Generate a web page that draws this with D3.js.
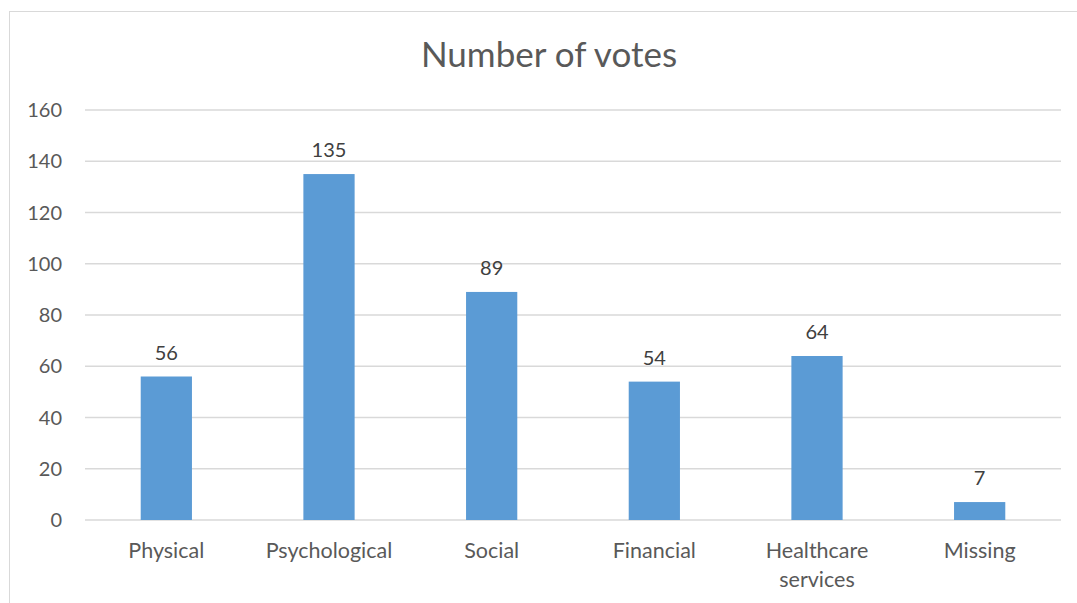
<!DOCTYPE html>
<html>
<head>
<meta charset="utf-8">
<script src="https://cdn.jsdelivr.net/npm/d3@7"></script>
<style>
  body { margin: 0; background: #fff; }
  text { font-family: Lato, "Open Sans", sans-serif; }
</style>
</head>
<body>
<div id="chart"></div>
<script>
var categories = ["Physical", "Psychological", "Social", "Financial", "Healthcare services", "Missing"];
var votes = [56, 135, 89, 54, 64, 7];
var yTicks = [0, 20, 40, 60, 80, 100, 120, 140, 160];

var W = 1077, H = 603;
var margin = { top: 110, right: 16, bottom: 83, left: 85 };
var width = W - margin.left - margin.right,
    height = H - margin.top - margin.bottom;

var svg = d3.select("#chart").append("svg")
    .attr("width", W).attr("height", H);

// outer chart frame
svg.append("rect")
    .attr("x", 9.5).attr("y", 11.5)
    .attr("width", W + 20).attr("height", H + 20)
    .attr("fill", "none").attr("stroke", "#d9d9d9");

svg.append("text")
    .attr("x", 549).attr("y", 67)
    .attr("text-anchor", "middle")
    .attr("font-size", "35px")
    .attr("fill", "#595959")
    .text("Number of votes");

var g = svg.append("g")
    .attr("transform", "translate(" + margin.left + "," + margin.top + ")");

var x = d3.scaleBand().domain(categories).range([0, width]).paddingInner(0.685).paddingOuter(0.3425);
var y = d3.scaleLinear().domain([0, 160]).range([height, 0]);

// gridlines
g.selectAll(".grid").data(yTicks).enter().append("line")
    .attr("x1", 0).attr("x2", width)
    .attr("y1", function(d){ return y(d); })
    .attr("y2", function(d){ return y(d); })
    .attr("stroke", "#d9d9d9").attr("stroke-width", 1.5);

// y labels
g.selectAll(".ylab").data(yTicks).enter().append("text")
    .attr("x", -23)
    .attr("y", function(d){ return y(d); })
    .attr("dy", "0.35em")
    .attr("text-anchor", "end")
    .attr("font-size", "20px")
    .attr("fill", "#595959")
    .text(function(d){ return d; });

// bars
g.selectAll(".bar").data(votes).enter().append("rect")
    .attr("x", function(d, i){ return x(categories[i]); })
    .attr("width", x.bandwidth())
    .attr("y", function(d){ return y(d); })
    .attr("height", function(d){ return height - y(d); })
    .attr("fill", "#5b9bd5");

// value labels
g.selectAll(".val").data(votes).enter().append("text")
    .attr("x", function(d, i){ return x(categories[i]) + x.bandwidth() / 2; })
    .attr("y", function(d){ return y(d) - 17; })
    .attr("text-anchor", "middle")
    .attr("font-size", "20px")
    .attr("fill", "#404040")
    .text(function(d){ return d; });

// category labels (wrap long ones)
categories.forEach(function(c, i){
    var words = c.split(" ");
    var lines = words.length > 1 && c.length > 14 ? words : [c];
    var t = g.append("text")
        .attr("text-anchor", "middle")
        .attr("font-size", "21.5px")
        .attr("fill", "#595959");
    lines.forEach(function(l, j){
        t.append("tspan")
            .attr("x", x(c) + x.bandwidth() / 2)
            .attr("y", height + 38 + j * 29)
            .text(l);
    });
});
</script>
</body>
</html>
